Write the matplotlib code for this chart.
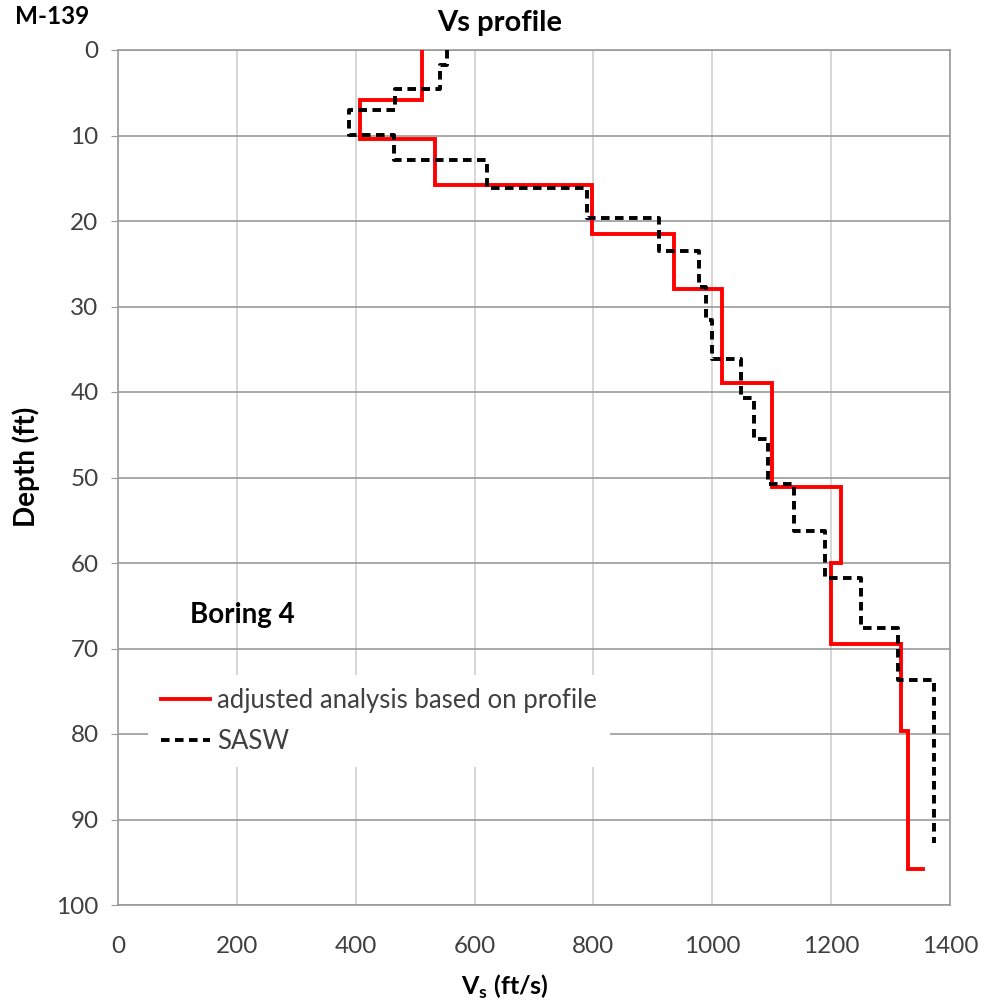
import matplotlib
matplotlib.use('Agg')
import matplotlib.pyplot as plt
import numpy as np

plt.rcParams['font.family'] = ['Lato', 'DejaVu Sans']

# adjusted analysis: layer velocity (ft/s) and layer boundaries (ft)
adj_vs = [512, 408, 533, 797, 935, 1017, 1101, 1216, 1199, 1317, 1330]
adj_depth = [0, 5.9, 10.4, 15.8, 21.5, 28.0, 38.9, 51.1, 60.0, 69.5, 79.7, 95.8]
adj_tail = 1354

# SASW profile
sasw_vs = [553, 542, 466, 388, 465, 621, 789, 911, 978, 990, 1000, 1049,
           1070, 1094, 1137, 1190, 1250, 1313, 1373]
sasw_depth = [0, 1.75, 4.6, 7.0, 9.9, 12.9, 16.1, 19.7, 23.5, 27.7, 31.6,
              36.1, 40.7, 45.5, 50.8, 56.2, 61.8, 67.6, 73.7, 92.7]

xticks = [0, 200, 400, 600, 800, 1000, 1200, 1400]
yticks = [0, 10, 20, 30, 40, 50, 60, 70, 80, 90, 100]


def step_profile(vs, depth):
    x = np.repeat(vs, 2)
    y = np.column_stack([depth[:-1], depth[1:]]).ravel()
    return x, y


fig = plt.figure(figsize=(9.86, 10.01), dpi=100)
ax = fig.add_axes([118 / 986, 1 - 905 / 1001, (950 - 118) / 986, (905 - 50) / 1001])

ax.set_xlim(0, 1400)
ax.set_ylim(100, 0)
ax.set_xticks(xticks)
ax.set_yticks(yticks)

for v in xticks:
    ax.axvline(v, color='#cfcfcf', lw=1.2, zorder=0)
for d in yticks:
    ax.axhline(d, color='#9a9a9a', lw=1.2, zorder=0)

for s in ax.spines.values():
    s.set_color('#9a9a9a')
    s.set_linewidth(1.2)

ax.tick_params(axis='y', length=5, color='#9a9a9a', labelsize=17.5, pad=9, labelcolor='#404040')
ax.tick_params(axis='x', length=0, labelsize=17.5, pad=22, labelcolor='#404040')

xa, ya = step_profile(adj_vs, adj_depth)
xa = np.append(xa, adj_tail)
ya = np.append(ya, adj_depth[-1])
ax.plot(xa, ya, color='#ff0000', lw=2.8, label='adjusted analysis based on profile',
        solid_joinstyle='miter', zorder=3)

xs, ys = step_profile(sasw_vs, sasw_depth)
ax.plot(xs, ys, color='black', lw=2.8, linestyle=(0, (2.2, 1.4)), label='SASW', zorder=4)

leg = ax.legend(loc='upper left', bbox_to_anchor=(30 / 832, 1 - 625 / 855), fontsize=18.5,
                frameon=True, fancybox=False, handlelength=1.9, handletextpad=0.3,
                labelspacing=0.62, borderpad=0.5, borderaxespad=0)
leg.get_frame().set_facecolor('white')
leg.get_frame().set_edgecolor('none')
leg.get_frame().set_alpha(1)
for t in leg.get_texts():
    t.set_color('#404040')

ax.text((190 - 118) / 832, 1 - (615 - 50) / 855, 'Boring 4', transform=ax.transAxes,
        fontsize=20, fontweight='bold', va='center')

fig.text(500 / 986, 1 - 23 / 1001, 'Vs profile', ha='center', va='center',
         fontsize=21, fontweight='bold')
fig.text(15 / 986, 1 - 16 / 1001, 'M-139', ha='left', va='center',
         fontsize=17.5, fontweight='bold')
fig.text(505 / 986, 1 - 987 / 1001, r'V$_\mathregular{s}$ (ft/s)', ha='center', va='center',
         fontsize=18, fontweight='bold')
fig.text(26 / 986, 1 - 467 / 1001, 'Depth (ft)', ha='center', va='center',
         fontsize=20, fontweight='bold', rotation=90)

fig.savefig('out.png', dpi=100)
